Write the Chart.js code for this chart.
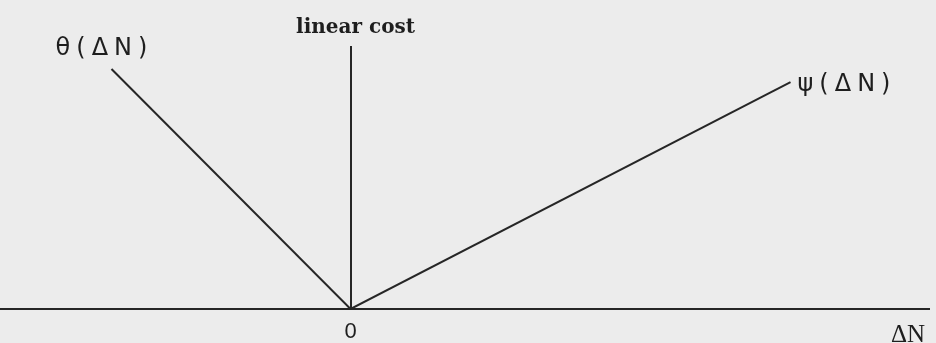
<!DOCTYPE html>
<html>
<head>
<meta charset="utf-8">
<script src="https://cdn.jsdelivr.net/npm/chart.js@4.4.1/dist/chart.umd.min.js"></script>
<style>
  html, body { margin: 0; padding: 0; background: #ececec; }
  #wrap { width: 936px; height: 343px; }
</style>
</head>
<body>
<div id="wrap"><canvas id="myChart" width="936" height="343"></canvas></div>
<script>
// theta line falls to the origin, psi line rises from it
const thetaX = [-6.82, 0];
const thetaY = [9.16, 0];
const psiX = [0, 12.55];
const psiY = [0, 8.66];
const xRange = [-10, 16.5];
const yRange = [0, 10];
const lineColor = '#262626';

const toPoints = (xs, ys) => xs.map((x, i) => ({ x: x, y: ys[i] }));

const labelsPlugin = {
    id: 'labels',
    afterDraw(chart) {
        const { ctx, chartArea, scales } = chart;
        const xs = scales.x, ys = scales.y;
        const ox = xs.getPixelForValue(0), oy = ys.getPixelForValue(0);
        ctx.save();
        ctx.fillStyle = '#1e1e1e';
        ctx.textBaseline = 'middle';

        ctx.textAlign = 'center';
        ctx.font = 'bold 20px "DejaVu Serif"';
        ctx.fillText('linear cost', ox + 5, chartArea.top - 19);

        ctx.font = '22px "Liberation Sans"';
        ctx.fillText('0', ox, oy + 23);

        ctx.textAlign = 'left';
        ctx.font = '25px "Liberation Serif"';
        ctx.fillText('ΔN', chartArea.right - 38, oy + 26);

        ctx.letterSpacing = '6px';
        ctx.font = '24px "DejaVu Sans"';
        ctx.textAlign = 'center';
        ctx.fillText('θ(ΔN)', xs.getPixelForValue(thetaX[0]) - 7, ys.getPixelForValue(thetaY[0]) - 20);
        ctx.textAlign = 'left';
        ctx.fillText('ψ(ΔN)', xs.getPixelForValue(psiX[1]) + 7, ys.getPixelForValue(psiY[1]) + 3);
        ctx.restore();
    }
};

const ctx = document.getElementById('myChart').getContext('2d');

const myChart = new Chart(ctx, {
    type: 'scatter',
    data: {
        datasets: [
            { label: 'θ(ΔN)', data: toPoints(thetaX, thetaY) },
            { label: 'ψ(ΔN)', data: toPoints(psiX, psiY) }
        ]
    },
    options: {
        responsive: false,
        animation: false,
        showLine: true,
        elements: {
            line: { borderColor: lineColor, borderWidth: 2, tension: 0 },
            point: { radius: 0, hoverRadius: 0 }
        },
        layout: { padding: { top: 47, bottom: 34, left: 0, right: 7 } },
        scales: {
            x: {
                type: 'linear',
                min: xRange[0],
                max: xRange[1],
                position: { y: 0 },
                grid: { display: false, drawTicks: false },
                ticks: { display: false },
                border: { display: true, color: lineColor, width: 2 }
            },
            y: {
                type: 'linear',
                min: yRange[0],
                max: yRange[1],
                position: { x: 0 },
                grid: { display: false, drawTicks: false },
                ticks: { display: false },
                border: { display: true, color: lineColor, width: 2 }
            }
        },
        plugins: {
            legend: { display: false },
            tooltip: { enabled: false }
        }
    },
    plugins: [labelsPlugin]
});
</script>
</body>
</html>
